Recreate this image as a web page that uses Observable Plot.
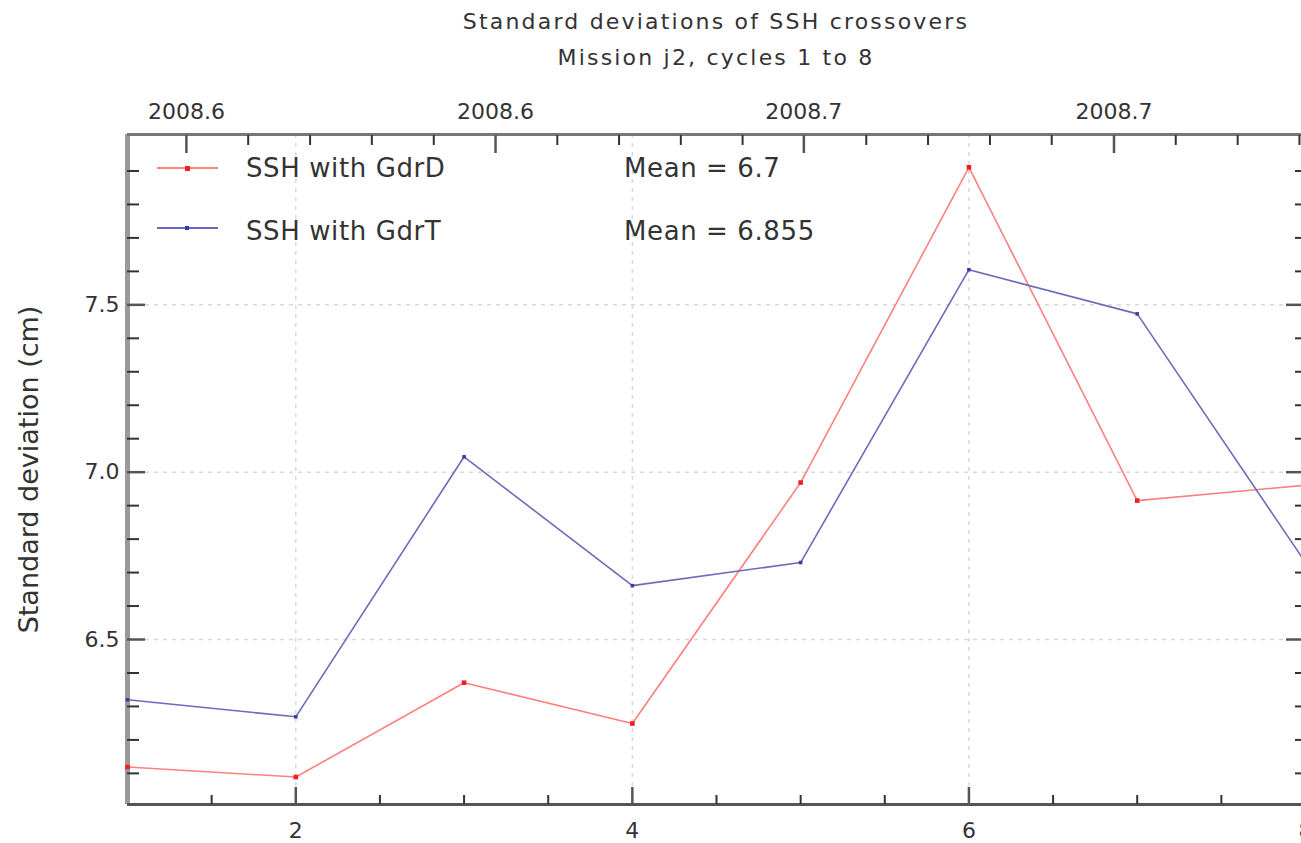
<!DOCTYPE html>
<html>
<head>
<meta charset="utf-8">
<script src="https://cdn.jsdelivr.net/npm/d3@7"></script>
<script src="https://cdn.jsdelivr.net/npm/@observablehq/plot@0.6"></script>
<style>
  html, body { margin: 0; padding: 0; background: #fff; overflow: hidden; }
  #wrap { position: relative; width: 1301px; height: 843px; overflow: hidden; font-family: "DejaVu Sans", sans-serif; color: #333; }
  #title { position: relative; height: 80px; }
  #title .t { position: absolute; left: 127px; width: 1178px; text-align: center; font-size: 22px; letter-spacing: 2.2px; line-height: 34px; color: #333; }
  .leg { position: absolute; font-size: 26px; line-height: 26px; color: #333; white-space: nowrap; letter-spacing: 0.6px; }
  .sw { position: absolute; width: 61px; height: 2px; }
  .mk { position: absolute; }
  #chart svg { display: block; max-width: none !important; }
</style>
</head>
<body>
<div id="wrap">
  <div id="title">
    <div class="t" style="top:5px">Standard deviations of SSH crossovers</div>
    <div class="t" style="top:41px">Mission j2, cycles 1 to 8</div>
  </div>
  <div id="chart"></div>
  <div id="legend"></div>
</div>
<script>
// ---- data ----
const cycles = [1, 2, 3, 4, 5, 6, 7, 8];
const gdrD = [6.119, 6.089, 6.371, 6.249, 6.969, 7.911, 6.915, 6.961];
const gdrT = [6.320, 6.269, 7.046, 6.661, 6.730, 7.605, 7.473, 6.730];
const seriesNames = ["SSH with GdrD", "SSH with GdrT"];
const meanLabels = ["Mean = 6.7", "Mean = 6.855"];
const seriesColors = ["#ff8080", "#6b6bbb"];
const markerColors = ["#f02020", "#3a3aa6"];

// ---- ticks ----
const xTickLabels = [2, 4, 6, 8];
const xMinorTicks = [1.5, 2.5, 3, 3.5, 4.5, 5, 5.5, 6.5, 7, 7.5];
const yTickLabels = [6.5, 7.0, 7.5];
const yMinorTicks = [6.1, 6.2, 6.3, 6.4, 6.6, 6.7, 6.8, 6.9, 7.1, 7.2, 7.3, 7.4, 7.6, 7.7, 7.8, 7.9];
const topTickPositions = [1.350, 3.187, 5.019, 6.862];
const topTickLabels = ["2008.6", "2008.6", "2008.7", "2008.7"];
const topMinorTicks = [1.717, 2.085, 2.452, 2.820, 3.554, 3.921, 4.288, 4.655, 5.390, 5.757, 6.125, 6.492, 7.229, 7.597, 7.964];

const xDomain = [1, 8];
const yDomain = [6.007, 8.009];

const rows = [];
cycles.forEach((c, i) => {
  rows.push({cycle: c, value: gdrD[i], series: seriesNames[0]});
  rows.push({cycle: c, value: gdrT[i], series: seriesNames[1]});
});
const topLabelMap = new Map(topTickPositions.map((p, i) => [p, topTickLabels[i]]));

const tickStroke = "#333";
const chart = Plot.plot({
  width: 1308,
  height: 763,
  marginLeft: 127,
  marginRight: 3,
  marginTop: 54,
  marginBottom: 39,
  style: {fontFamily: "DejaVu Sans, sans-serif", color: "#333", background: "#fff", overflow: "visible", maxWidth: "none"},
  x: {domain: xDomain, axis: null},
  y: {domain: yDomain, axis: null},
  color: {domain: seriesNames, range: seriesColors},
  marks: [
    Plot.gridX(xTickLabels.slice(0, 3), {stroke: "#d8d8d8", strokeOpacity: 1, strokeWidth: 1.5, strokeDasharray: "4,5"}),
    Plot.gridY(yTickLabels, {stroke: "#d8d8d8", strokeOpacity: 1, strokeWidth: 1.5, strokeDasharray: "4,5"}),
    // frame
    Plot.ruleX([xDomain[0]], {stroke: "#9a9a9a", strokeWidth: 5}),
    Plot.ruleX([xDomain[1]], {stroke: "#777", strokeWidth: 3}),
    Plot.ruleY([yDomain[0]], {stroke: "#555", strokeWidth: 3}),
    Plot.ruleY([yDomain[1]], {stroke: "#777", strokeWidth: 3}),
    // bottom ticks
    Plot.axisX(xTickLabels, {anchor: "bottom", tickSize: -17, fill: "none", stroke: "#555", strokeWidth: 2.5, label: null}),
    Plot.axisX(xMinorTicks, {anchor: "bottom", tickSize: -9, fill: "none", stroke: tickStroke, strokeWidth: 2, label: null}),
    Plot.axisX(xTickLabels, {anchor: "bottom", tickSize: 0, tickPadding: 18, fontSize: 22, fill: "#333", tickFormat: d3.format("d"), label: null}),
    // top ticks
    Plot.axisX(topTickPositions, {anchor: "top", tickSize: -18, fill: "none", stroke: "#555", strokeWidth: 2.5, label: null}),
    Plot.axisX(topMinorTicks, {anchor: "top", tickSize: -10, fill: "none", stroke: tickStroke, strokeWidth: 2, label: null}),
    Plot.axisX(topTickPositions, {anchor: "top", tickSize: 0, tickPadding: 16, fontSize: 22, fill: "#333", tickFormat: d => topLabelMap.get(d), label: null}),
    // left ticks
    Plot.axisY(yTickLabels, {anchor: "left", tickSize: -18, fill: "none", stroke: "#555", strokeWidth: 2.5, label: null}),
    Plot.axisY(yMinorTicks, {anchor: "left", tickSize: -12, fill: "none", stroke: tickStroke, strokeWidth: 2, label: null}),
    Plot.axisY(yTickLabels, {anchor: "left", tickSize: 0, tickPadding: 8, fontSize: 22, fill: "#333", tickFormat: d3.format(".1f"), label: null}),
    // right ticks
    Plot.axisY(yTickLabels, {anchor: "right", tickSize: -20, fill: "none", stroke: "#555", strokeWidth: 2.5, label: null}),
    Plot.axisY(yMinorTicks, {anchor: "right", tickSize: -11, fill: "none", stroke: tickStroke, strokeWidth: 2, label: null}),
    // y label
    Plot.text(["Standard deviation (cm)"], {frameAnchor: "left", dx: -98, rotate: -90, fontSize: 27, fill: "#333", textAnchor: "middle", lineAnchor: "middle", style: {letterSpacing: "0.6px"}}),
    // series
    Plot.line(rows, {x: "cycle", y: "value", z: "series", stroke: "series", strokeWidth: 1.6}),
    Plot.dot(rows.filter(d => d.series === seriesNames[0]), {x: "cycle", y: "value", symbol: "square", r: 2.6, fill: markerColors[0]}),
    Plot.dot(rows.filter(d => d.series === seriesNames[1]), {x: "cycle", y: "value", symbol: "square", r: 2.0, fill: markerColors[1]})
  ]
});
document.getElementById("chart").appendChild(chart);

// legend (HTML overlay)
const legend = document.getElementById("legend");
const rowTops = [155, 218];
const swatchOffsets = [13, 10];
seriesNames.forEach((name, i) => {
  const top = rowTops[i];
  const sw = document.createElement("div");
  sw.className = "sw";
  sw.style.left = "157px";
  sw.style.top = (top + swatchOffsets[i] - 1) + "px";
  sw.style.background = seriesColors[i];
  legend.appendChild(sw);
  const mk = document.createElement("div");
  mk.className = "mk";
  const s = i === 0 ? 5 : 4;
  mk.style.width = s + "px"; mk.style.height = s + "px";
  mk.style.left = (187 - s / 2) + "px";
  mk.style.top = (top + swatchOffsets[i] - s / 2) + "px";
  mk.style.background = markerColors[i];
  legend.appendChild(mk);
  const t = document.createElement("div");
  t.className = "leg";
  t.style.left = "246px"; t.style.top = top + "px";
  t.textContent = name;
  legend.appendChild(t);
  const m = document.createElement("div");
  m.className = "leg";
  m.style.left = "624px"; m.style.top = top + "px";
  m.textContent = meanLabels[i];
  legend.appendChild(m);
});
</script>
</body>
</html>
